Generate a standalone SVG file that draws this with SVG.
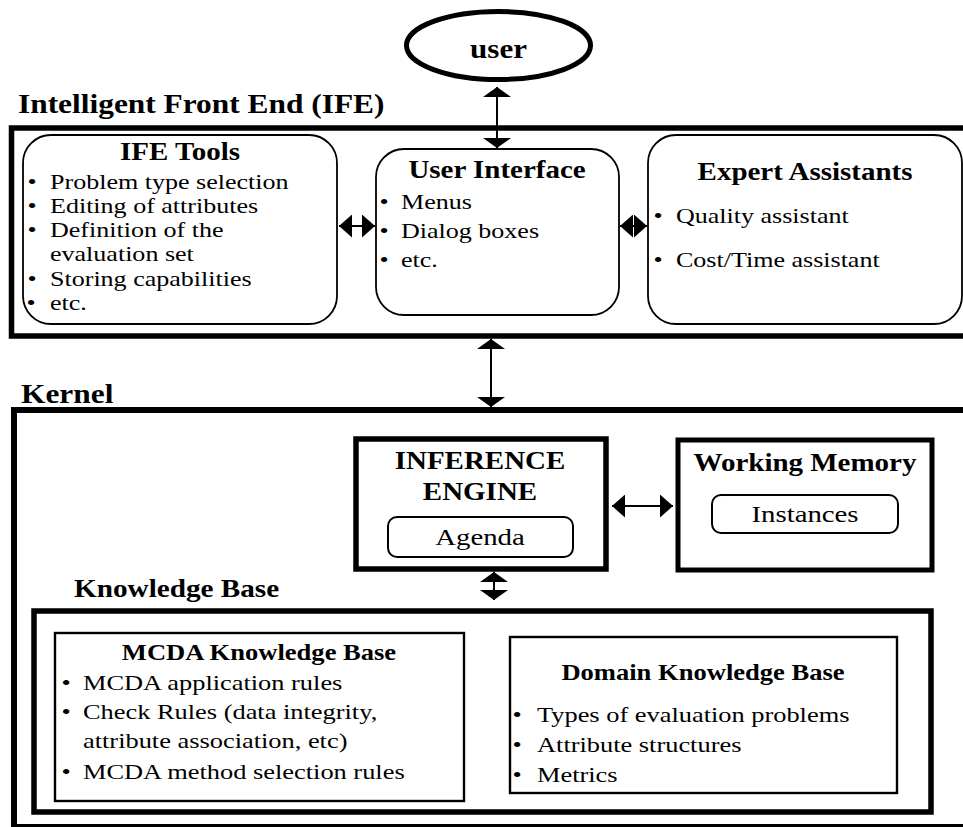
<svg xmlns="http://www.w3.org/2000/svg" width="963" height="827" viewBox="0 0 963 827">
<style>
text{font-family:"Liberation Serif","Times New Roman",serif;fill:#000}
.h{font-size:27.3px;font-weight:bold}
.u{font-size:27px;font-weight:bold}
.t{font-size:25.2px;font-weight:bold}
.kb{font-size:25.4px;font-weight:bold}
.kt{font-size:23.1px;font-weight:bold}
.r{font-size:21.7px}
.k{font-size:22px}
.a{font-size:24px}
.m{text-anchor:middle}
.thick{fill:none;stroke:#000;stroke-width:5.5}
.round{fill:#fff;stroke:#000;stroke-width:1.8}
.sq{fill:#fff;stroke:#000;stroke-width:2.4}
.conn line{stroke:#000;stroke-width:2}
</style>
<defs>
<marker id="av" markerUnits="userSpaceOnUse" viewBox="0 0 10 28" markerWidth="10" markerHeight="28" refX="10" refY="14" orient="auto-start-reverse"><path d="M0,0L10,14L0,28z" fill="#000"/></marker>
<marker id="ah" markerUnits="userSpaceOnUse" viewBox="0 0 13 23" markerWidth="13" markerHeight="23" refX="13" refY="11.5" orient="auto-start-reverse"><path d="M0,0L13,11.5L0,23z" fill="#000"/></marker>
</defs>
<rect width="963" height="827" fill="#fff"/>

<g id="user">
<ellipse cx="498.5" cy="45.5" rx="92" ry="34" fill="#fff" stroke="#000" stroke-width="5"/>
<text class="u m" transform="translate(498.5 58) scale(1.15 1)">user</text>
</g>

<g id="ife">
<text class="h" transform="translate(18 113) scale(1.15 1)">Intelligent Front End (IFE)</text>
<rect class="thick" x="11.5" y="128" width="960" height="208"/>
</g>

<g id="ife-tools">
<rect class="round" x="23" y="135" width="314" height="189" rx="28"/>
<text class="t m" transform="translate(180 160) scale(1.15 1)">IFE Tools</text>
<text class="r" transform="translate(50 188.5) scale(1.2 1)"><tspan x="-18.8">•</tspan><tspan x="0">Problem type selection</tspan></text>
<text class="r" transform="translate(50 212.5) scale(1.2 1)"><tspan x="-18.8">•</tspan><tspan x="0">Editing of attributes</tspan></text>
<text class="r" transform="translate(50 236.5) scale(1.2 1)"><tspan x="-18.8">•</tspan><tspan x="0">Definition of the</tspan></text>
<text class="r" transform="translate(50 260.8) scale(1.2 1)">evaluation set</text>
<text class="r" transform="translate(50 285.5) scale(1.2 1)"><tspan x="-18.8">•</tspan><tspan x="0">Storing capabilities</tspan></text>
<text class="r" transform="translate(50 310) scale(1.2 1)"><tspan x="-19.6">•</tspan><tspan x="0">etc.</tspan></text>
</g>

<g id="user-interface">
<rect class="round" x="376" y="149" width="243" height="166" rx="28"/>
<text class="t m" transform="translate(497 178) scale(1.15 1)">User Interface</text>
<text class="r" transform="translate(401 209) scale(1.2 1)"><tspan x="-17.9">•</tspan><tspan x="0">Menus</tspan></text>
<text class="r" transform="translate(401 238) scale(1.2 1)"><tspan x="-17.9">•</tspan><tspan x="0">Dialog boxes</tspan></text>
<text class="r" transform="translate(401 267) scale(1.2 1)"><tspan x="-17.9">•</tspan><tspan x="0">etc.</tspan></text>
</g>

<g id="expert-assistants">
<rect class="round" x="648" y="135" width="314" height="189" rx="28"/>
<text class="t m" transform="translate(805 180) scale(1.15 1)">Expert Assistants</text>
<text class="r" transform="translate(676 223) scale(1.2 1)"><tspan x="-18.8">•</tspan><tspan x="0">Quality assistant</tspan></text>
<text class="r" transform="translate(676 267) scale(1.2 1)"><tspan x="-18.8">•</tspan><tspan x="0">Cost/Time assistant</tspan></text>
</g>

<g id="kernel">
<text class="h" transform="translate(21 403) scale(1.15 1)">Kernel</text>
<rect fill="none" stroke="#000" stroke-width="6" x="14" y="410" width="960" height="417"/>
</g>

<g id="inference-engine">
<rect class="thick" x="356" y="439" width="250" height="130"/>
<text class="t m" transform="translate(480 469) scale(1.15 1)">INFERENCE</text>
<text class="t m" transform="translate(480 500) scale(1.15 1)">ENGINE</text>
<g id="agenda">
<rect x="388" y="517" width="185" height="40" rx="9" fill="#fff" stroke="#000" stroke-width="2"/>
<text class="a m" transform="translate(480 545) scale(1.2 1)">Agenda</text>
</g>
</g>

<g id="working-memory">
<rect fill="none" stroke="#000" stroke-width="5" x="678" y="440" width="254" height="130"/>
<text class="t m" transform="translate(805 471) scale(1.15 1)">Working Memory</text>
<g id="instances">
<rect x="712" y="495" width="186" height="38" rx="9" fill="#fff" stroke="#000" stroke-width="2"/>
<text class="a m" transform="translate(805 522) scale(1.2 1)">Instances</text>
</g>
</g>

<g id="knowledge-base">
<text class="kb" transform="translate(74 597) scale(1.15 1)">Knowledge Base</text>
<rect class="thick" x="34" y="611" width="897" height="201"/>
</g>

<g id="mcda-kb">
<rect class="sq" x="55" y="633" width="409" height="168"/>
<text class="kt m" transform="translate(259 660) scale(1.15 1)">MCDA Knowledge Base</text>
<text class="k" transform="translate(83 690) scale(1.2 1)"><tspan x="-17.9">•</tspan><tspan x="0">MCDA application rules</tspan></text>
<text class="k" transform="translate(83 719) scale(1.2 1)"><tspan x="-17.9">•</tspan><tspan x="0">Check Rules (data integrity,</tspan></text>
<text class="k" transform="translate(83 748) scale(1.2 1)">attribute association, etc)</text>
<text class="k" transform="translate(83 779) scale(1.2 1)"><tspan x="-17.9">•</tspan><tspan x="0">MCDA method selection rules</tspan></text>
</g>

<g id="domain-kb">
<rect class="sq" x="510" y="637" width="387" height="156" stroke-width="2.2"/>
<text class="kt m" transform="translate(703 680) scale(1.15 1)">Domain Knowledge Base</text>
<text class="k" transform="translate(537 722) scale(1.2 1)"><tspan x="-20.4">•</tspan><tspan x="0">Types of evaluation problems</tspan></text>
<text class="k" transform="translate(537 752) scale(1.2 1)"><tspan x="-20.4">•</tspan><tspan x="0">Attribute structures</tspan></text>
<text class="k" transform="translate(537 782) scale(1.2 1)"><tspan x="-20.4">•</tspan><tspan x="0">Metrics</tspan></text>
</g>

<g id="connectors" class="conn">
<line x1="497" y1="87" x2="497" y2="148" marker-start="url(#av)" marker-end="url(#av)"/>
<line x1="491" y1="339" x2="491" y2="407" marker-start="url(#av)" marker-end="url(#av)"/>
<line x1="494" y1="572" x2="494" y2="600" marker-start="url(#av)" marker-end="url(#av)"/>
<line x1="339" y1="226" x2="375" y2="226" marker-start="url(#ah)" marker-end="url(#ah)"/>
<line x1="620" y1="226" x2="647" y2="226" marker-start="url(#ah)" marker-end="url(#ah)"/>
<line x1="612" y1="506" x2="673" y2="506" marker-start="url(#ah)" marker-end="url(#ah)"/>
</g>
</svg>
